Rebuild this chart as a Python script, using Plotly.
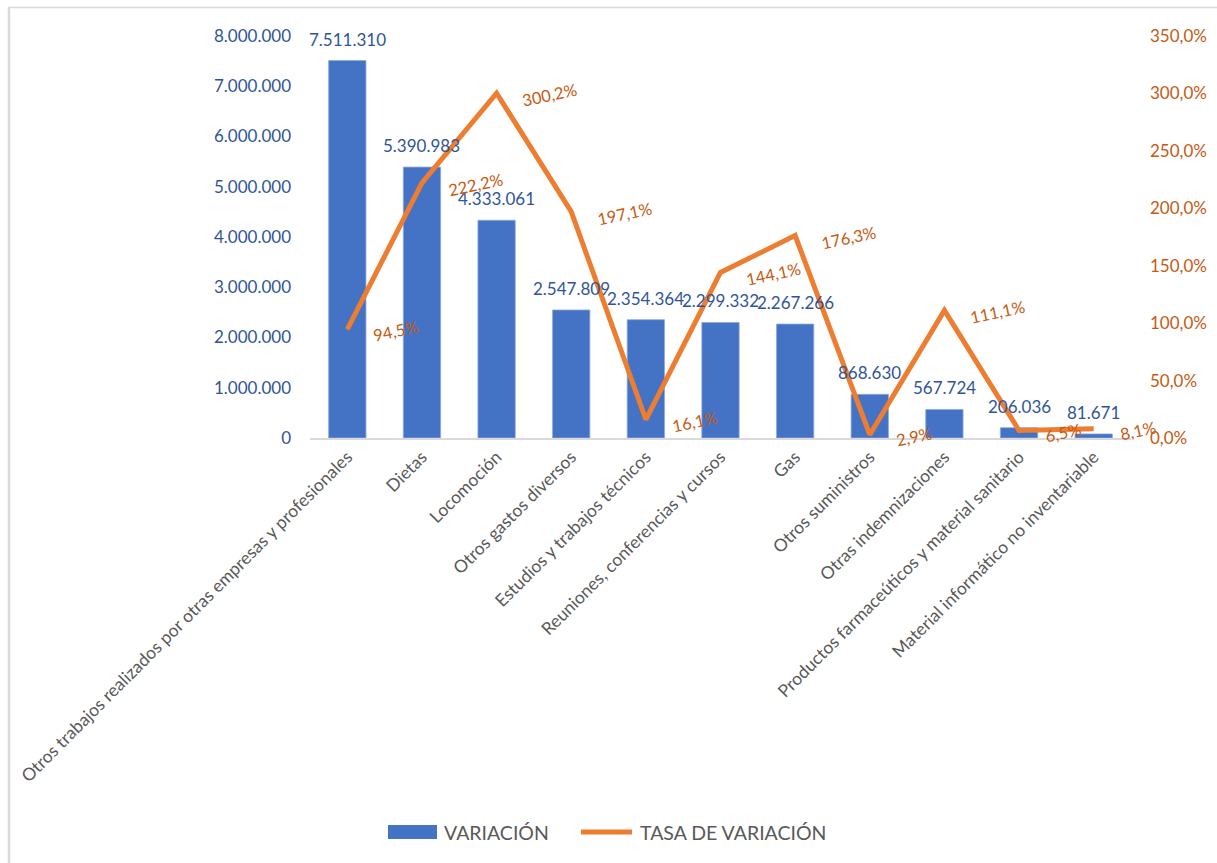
import plotly.graph_objects as go

# Conceptos de gasto
categorias = [
    "Otros trabajos realizados por otras empresas y profesionales",
    "Dietas",
    "Locomoción",
    "Otros gastos diversos",
    "Estudios y trabajos técnicos",
    "Reuniones, conferencias y cursos",
    "Gas",
    "Otros suministros",
    "Otras indemnizaciones",
    "Productos farmaceúticos y material sanitario",
    "Material informático no inventariable",
]

# Variación absoluta (euros)
variacion = [7511310, 5390983, 4333061, 2547809, 2354364, 2299332,
             2267266, 868630, 567724, 206036, 81671]

# Tasa de variación (%)
tasa = [94.5, 222.2, 300.2, 197.1, 16.1, 144.1, 176.3, 2.9, 111.1, 6.5, 8.1]

# Marcas del eje derecho (%)
ticks_tasa = [0, 50, 100, 150, 200, 250, 300, 350]

AZUL = "#4472C4"
NARANJA = "#ED7D31"
TXT_AZUL = "#2F5597"
TXT_NARANJA = "#C55A11"
GRIS = "#595959"
FONT = "Lato"

W, H = 1217, 863
L, R, T, B = 310, 86, 36, 425
PW, PH = W - L - R, H - T - B


def px_x(px):
    return (px - L) / PW


def px_y(py):
    return (H - B - py) / PH


def pct(v):
    return f"{v:.1f}".replace(".", ",") + "%"


fig = go.Figure()

fig.add_trace(go.Bar(
    x=categorias, y=variacion, name="VARIACIÓN",
    marker=dict(color=AZUL, line=dict(color="#8FAADC", width=0.8)),
    yaxis="y", showlegend=False,
))

fig.add_trace(go.Scatter(
    x=categorias, y=tasa, name="TASA DE VARIACIÓN",
    mode="lines", line=dict(color=NARANJA, width=5),
    yaxis="y2", showlegend=False,
))

annotations = []
# Etiquetas de valor de las barras
for c, v in zip(categorias, variacion):
    annotations.append(dict(
        x=c, y=v, xref="x", yref="y",
        text=f"{v:,}".replace(",", "."),
        showarrow=False, xanchor="center", yanchor="bottom", yshift=9,
        font=dict(family=FONT, size=17, color=TXT_AZUL),
    ))
# Etiquetas de la tasa, a la derecha de cada punto
for c, t in zip(categorias, tasa):
    annotations.append(dict(
        x=c, y=t, xref="x", yref="y2",
        text=pct(t),
        showarrow=False, xanchor="left", yanchor="middle",
        xshift=22, yshift=-2, textangle=-12,
        font=dict(family=FONT, size=16.5, color=TXT_NARANJA),
    ))

# Leyenda
annotations.append(dict(
    x=px_x(442), y=px_y(832), xref="paper", yref="paper",
    text="VARIACIÓN", showarrow=False, xanchor="left", yanchor="middle",
    font=dict(family=FONT, size=19.5, color=GRIS),
))
annotations.append(dict(
    x=px_x(638), y=px_y(832), xref="paper", yref="paper",
    text="TASA DE VARIACIÓN", showarrow=False, xanchor="left", yanchor="middle",
    font=dict(family=FONT, size=19.5, color=GRIS),
))

shapes = [
    dict(type="rect", xref="paper", yref="paper",
         x0=px_x(388), x1=px_x(437), y0=px_y(839), y1=px_y(825),
         fillcolor=AZUL, line=dict(width=0)),
    dict(type="line", xref="paper", yref="paper",
         x0=px_x(581), x1=px_x(632), y0=px_y(832), y1=px_y(832),
         line=dict(color=NARANJA, width=5)),
    # marco del gráfico
    dict(type="line", xref="paper", yref="paper",
         x0=px_x(9), x1=px_x(9), y0=px_y(7), y1=px_y(875),
         line=dict(color="#D9D9D9", width=2.5)),
    dict(type="line", xref="paper", yref="paper",
         x0=px_x(8), x1=px_x(1230), y0=px_y(7.5), y1=px_y(7.5),
         line=dict(color="#D9D9D9", width=1.5)),
]

fig.update_layout(
    width=W, height=H,
    margin=dict(l=L, r=R, t=T, b=B, pad=0, autoexpand=False),
    paper_bgcolor="white", plot_bgcolor="white",
    separators=",.",
    bargap=0.5,
    font=dict(family=FONT, color=GRIS),
    xaxis=dict(
        type="category", range=[-0.5, len(categorias) - 0.5],
        automargin=False, showgrid=False, zeroline=False,
        showline=True, linecolor="#D9D9D9", linewidth=2,
        ticks="", tickangle=-45,
        tickfont=dict(family=FONT, size=17.5, color=GRIS),
    ),
    yaxis=dict(
        range=[0, 8000000], tickvals=list(range(0, 8000001, 1000000)),
        tickformat=",d", automargin=False,
        showgrid=False, zeroline=False, showline=False,
        ticks="", ticklabelstandoff=18,
        tickfont=dict(family=FONT, size=17, color=TXT_AZUL),
    ),
    yaxis2=dict(
        overlaying="y", side="right", range=[0, 350],
        tickvals=ticks_tasa, ticktext=[pct(v) for v in ticks_tasa],
        automargin=False,
        showgrid=False, zeroline=False, showline=False,
        ticks="", ticklabelstandoff=18,
        tickfont=dict(family=FONT, size=17, color=TXT_NARANJA),
    ),
    annotations=annotations,
    shapes=shapes,
    showlegend=False,
)

fig.write_html("out.html")
